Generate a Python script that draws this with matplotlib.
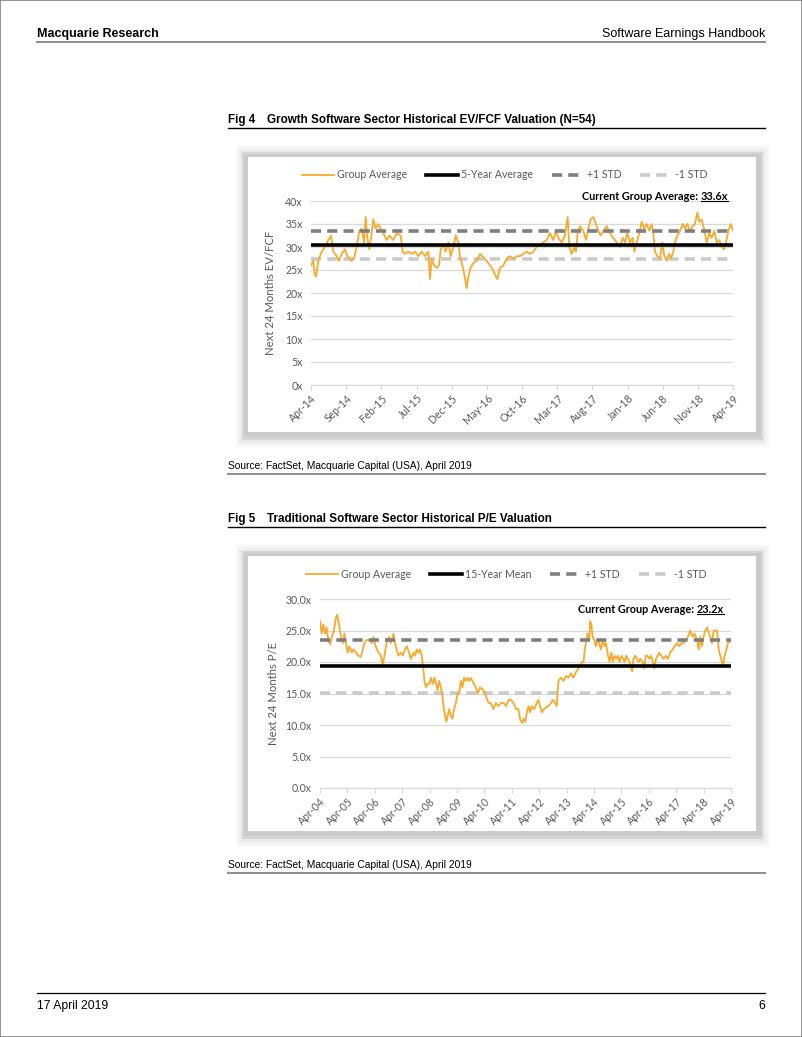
import matplotlib
matplotlib.use("Agg")
import matplotlib.pyplot as plt
from matplotlib.patches import Rectangle
from matplotlib.lines import Line2D

W, H = 802, 1037

# ---- data ----
ev_labels = ["Apr-14", "Sep-14", "Feb-15", "Jul-15", "Dec-15", "May-16", "Oct-16",
             "Mar-17", "Aug-17", "Jan-18", "Jun-18", "Nov-18", "Apr-19"]
# months since Apr-14
ev_month = [0, 0.33, 0.52, 0.71, 1.04, 1.52, 1.99, 2.46, 2.84, 3.18, 3.65, 3.98, 4.36,
            4.83, 5.17, 5.78, 6.11, 6.49, 6.87, 7.20, 7.54, 7.77, 8.01, 8.29, 8.63,
            8.86, 9.19, 9.57, 9.91, 10.28, 10.76, 11.14, 11.71, 12.18, 12.75, 13.03,
            13.36, 13.84, 14.31, 14.79, 15.26, 15.73, 16.21, 16.68, 16.92, 17.16,
            17.49, 17.87, 18.20, 18.44, 18.82, 19.15, 19.53, 19.86, 20.24, 20.57,
            20.95, 21.18, 21.52, 21.80, 22.13, 22.37, 22.70, 23.08, 23.55, 24.03,
            24.98, 25.69, 26.16, 26.49, 26.87, 27.35, 27.82, 28.29, 28.77, 29.24,
            29.72, 30.19, 30.66, 31.14, 31.61, 32.09, 32.56, 33.03, 33.51, 33.98,
            34.45, 34.83, 35.17, 35.64, 36.11, 36.49, 36.73, 37.06, 37.44, 37.68,
            37.91, 38.25, 38.72, 39.10, 39.43, 39.76, 40.14, 40.52, 40.85, 41.18,
            41.56, 42.04, 42.51, 42.98, 43.46, 43.93, 44.31, 44.64, 44.98, 45.36,
            45.73, 45.97, 46.30, 46.68, 47.01, 47.35, 47.73, 48.10, 48.44, 48.67,
            48.91, 49.24, 49.62, 49.95, 50.24, 50.57, 50.90, 51.18, 51.52, 51.75,
            52.09, 52.46, 52.84, 53.18, 53.51, 53.89, 54.27, 54.60, 54.93, 55.21,
            55.55, 55.88, 56.26, 56.64, 56.97, 57.35, 57.68, 58.06, 58.39, 58.72,
            59.00, 59.34, 59.67, 60.0]
ev_value = [26, 27, 24, 23.6, 27, 29, 30, 31.5, 32.5, 29, 28, 27, 28.5,
            29.5, 28, 27, 27.5, 30, 33.5, 34, 31, 36.5, 32, 29.5, 33,
            36, 34, 35, 34, 33, 31.5, 32.5, 31.5, 33, 32.5, 29,
            28.5, 29, 28.5, 29, 28, 29, 28, 29, 23, 27.5,
            26, 25.5, 26, 29.5, 30.5, 29, 31, 28, 30, 32.5,
            31, 28, 26, 24, 21, 23.5, 25.5, 26.5, 27, 28.5,
            27, 25.5, 24, 23, 25.5, 26, 27.5, 28, 27.5, 28,
            28, 28.5, 29, 28.5, 29, 30, 30.5, 31, 31.5, 33,
            31.5, 33.5, 32, 31, 32.5, 36.5, 30, 28.5, 30, 29,
            33, 34.5, 33.5, 31.5, 34, 36, 36.5, 35, 33.5, 32.5,
            33.5, 34.5, 33, 32, 31, 30, 32, 31, 33, 31,
            32, 29, 31, 33, 35.5, 34, 35, 33.5, 35, 33,
            29, 28, 27.5, 31, 28, 27, 28.5, 27.5, 29, 31,
            32.5, 33.5, 35, 34, 35, 33.5, 34.5, 35, 37.5, 35.5,
            36, 34, 31, 33, 32, 33.5, 31, 31.5, 30, 29.5,
            31, 33.5, 35, 33.6]
ev_mean, ev_plus, ev_minus = 30.5, 33.5, 27.5

pe_labels = ["Apr-%02d" % y for y in range(4, 20)]
# years since Apr-04
pe_year = [0.00, 0.06, 0.12, 0.18, 0.24, 0.30, 0.37, 0.43, 0.51, 0.58, 0.63, 0.69,
           0.77, 0.83, 0.89, 0.95, 1.01, 1.07, 1.16, 1.22, 1.31, 1.40, 1.49, 1.56,
           1.62, 1.70, 1.80, 1.89, 1.95, 2.03, 2.13, 2.22, 2.29, 2.35, 2.43, 2.52,
           2.59, 2.68, 2.74, 2.80, 2.86, 2.95, 3.02, 3.10, 3.17, 3.25, 3.32, 3.41,
           3.47, 3.53, 3.59, 3.65, 3.71, 3.77, 3.81, 3.86, 3.92, 3.99, 4.05, 4.11,
           4.18, 4.24, 4.29, 4.35, 4.41, 4.47, 4.52, 4.57, 4.61, 4.66, 4.71, 4.77,
           4.83, 4.89, 4.96, 5.02, 5.08, 5.14, 5.20, 5.26, 5.32, 5.38, 5.44, 5.50,
           5.56, 5.62, 5.69, 5.75, 5.81, 5.84, 5.97, 6.06, 6.15, 6.23, 6.33, 6.42,
           6.51, 6.60, 6.70, 6.79, 6.88, 6.96, 7.06, 7.16, 7.24, 7.30, 7.37, 7.43,
           7.49, 7.55, 7.61, 7.67, 7.73, 7.82, 7.91, 7.97, 8.03, 8.10, 8.16, 8.25,
           8.34, 8.43, 8.50, 8.58, 8.64, 8.70, 8.79, 8.89, 8.98, 9.07, 9.16, 9.25,
           9.35, 9.44, 9.50, 9.56, 9.62, 9.65, 9.72, 9.76, 9.83, 9.86, 9.90, 9.95,
           10.01, 10.07, 10.13, 10.19, 10.25, 10.32, 10.38, 10.44, 10.51, 10.57,
           10.63, 10.69, 10.75, 10.81, 10.87, 10.93, 11.00, 11.06, 11.12, 11.18,
           11.24, 11.30, 11.39, 11.44, 11.50, 11.57, 11.63, 11.69, 11.77, 11.83,
           11.89, 11.95, 12.02, 12.08, 12.15, 12.20, 12.26, 12.32, 12.38, 12.45,
           12.54, 12.62, 12.70, 12.78, 12.87, 12.94, 13.03, 13.11, 13.19, 13.27,
           13.36, 13.43, 13.51, 13.60, 13.67, 13.76, 13.82, 13.88, 13.94, 14.00,
           14.06, 14.13, 14.19, 14.25, 14.31, 14.37, 14.43, 14.49, 14.55, 14.61,
           14.67, 14.71, 14.77, 14.83, 14.89, 14.95, 15.00]
pe_value = [26.5, 24.5, 26, 24.5, 25.5, 23.5, 22.8, 24, 25, 27, 27.5, 26,
            24, 23, 24.5, 23, 21.5, 22.5, 21.5, 22, 21.5, 21, 20.8, 22,
            23, 23.5, 23.5, 23, 24, 22.5, 21.5, 21, 19.5, 21, 23, 24,
            23, 24.5, 23, 22, 21, 21.5, 21, 22, 22.5, 21.5, 20.5, 21.5,
            21, 22, 21.5, 22, 21, 19, 17, 16, 16.5, 16.5, 17.5, 16.5,
            17.5, 16.5, 15.5, 17, 16, 14.5, 12.5, 11.5, 10.5, 11.5, 12.5, 11.5,
            11, 12.5, 13.5, 15, 15, 17, 16, 17.5, 17, 17.5, 17, 17.5,
            17, 16.5, 16, 15, 15.5, 16, 15.5, 14.5, 13.5, 13.5, 12.5, 13.5,
            13, 13.5, 13.5, 13, 14, 14, 13.5, 12.5, 12.5, 11, 10.3, 11,
            10.5, 12, 13, 12, 13, 12.5, 13.5, 14, 13, 12, 12.5, 12.8,
            13, 13.5, 14, 13.5, 13, 17, 17.5, 17, 17.8, 17.5, 18.2, 17.5,
            18.5, 19, 19.5, 20, 20, 21.5, 23.5, 24.5, 23.5, 26.5, 26, 24,
            23.5, 22.5, 23.5, 23, 22, 23.5, 22.5, 23, 21, 20,
            21.5, 20, 21, 20.5, 21, 20, 21, 20.5, 20, 21,
            20.5, 20, 18.5, 20.5, 21, 20.5, 20, 20.5, 20, 19,
            21, 21, 20.5, 21, 20, 19, 20.5, 21, 21.5, 21,
            20.5, 21, 20.5, 21.5, 22, 22.5, 23, 22.5, 23, 23,
            23.5, 24, 25, 24, 24.5, 23.5, 22, 24, 22.5, 24,
            25, 25.5, 24.5, 24, 23, 25, 25, 25, 22, 21,
            20, 19.5, 21, 22, 23, 23.5, 23.2]
pe_mean, pe_plus, pe_minus = 19.3, 23.5, 15.1

ORANGE = "#F9AA2C"
DARK = "#7f7f7f"
LIGHT = "#cacaca"
GRID = "#d9d9d9"
TXT = "#595959"
CHART_FONT = "Lato"
PAGE_FONT = "Liberation Sans"

fig = plt.figure(figsize=(W / 100, H / 100), dpi=100)


def fx(x):
    return x / W


def fy(y):
    return 1 - y / H


def hline(x0, x1, y, color, lw):
    fig.add_artist(Line2D([fx(x0), fx(x1)], [fy(y), fy(y)], color=color, lw=lw,
                          transform=fig.transFigure))


def rect(x0, y0, x1, y1, **kw):
    fig.add_artist(Rectangle((fx(x0), fy(y1)), fx(x1) - fx(x0), fy(y0) - fy(y1),
                             transform=fig.transFigure, zorder=-5, **kw))


def frame(y0, y1):
    x0, x1 = 242, 763
    for d in range(1, 8):
        rect(x0 - d, y0 - d, x1 + d, y1 + d + 1, color="black", alpha=0.01, lw=0)
    rect(x0, y0, x1, y1, color="#d6d6d6", lw=0)
    rect(x0 + 2, y0 + 2, x1 - 2, y1 - 3, color="#cbcbcb", lw=0)
    rect(x0 + 6, y0 + 5, x1 - 7, y1 - 8, color="white", lw=0)


# page furniture
fig.add_artist(Rectangle((0, 0), 1, 1, transform=fig.transFigure, fill=False,
                         edgecolor="#808080", lw=1.2))
fig.text(fx(37), fy(37), "Macquarie Research", fontsize=9, fontweight="bold",
         family=PAGE_FONT, va="baseline")
fig.text(fx(765), fy(37), "Software Earnings Handbook", fontsize=9,
         family=PAGE_FONT, va="baseline", ha="right")
hline(37, 765, 41.5, "#8c8c8c", 1.4)
hline(37, 765, 993, "black", 0.9)
fig.text(fx(37), fy(1009), "17 April 2019", fontsize=8.7, family=PAGE_FONT, va="baseline")
fig.text(fx(765), fy(1009), "6", fontsize=8.7, family=PAGE_FONT, va="baseline", ha="right")


def figure_block(top, num, title, source_y):
    fig.text(fx(228), fy(top), "Fig %d" % num, fontsize=8.4, fontweight="bold",
             family=PAGE_FONT, va="baseline")
    fig.text(fx(267), fy(top), title, fontsize=8.4, fontweight="bold",
             family=PAGE_FONT, va="baseline")
    hline(228, 765, top + 5, "black", 1.0)
    fig.text(fx(228), fy(source_y), "Source: FactSet, Macquarie Capital (USA), April 2019",
             fontsize=7.4, family=PAGE_FONT, va="baseline")
    hline(228, 765, source_y + 5, "#8c8c8c", 1.4)


def chart(box, x, y, xmax, labels, mean, plus, minus, ymax, fmt, ylabel, ylab_x,
          mean_name, legend_x, legend_y, cur_xy, cur_text):
    ax = fig.add_axes([fx(box[0]), fy(box[3]), fx(box[2]) - fx(box[0]),
                       fy(box[1]) - fy(box[3])])
    ax.set_facecolor("none")
    l1, = ax.plot(x, y, color=ORANGE, lw=1.3, zorder=3)
    l2, = ax.plot([0, xmax], [mean, mean], color="black", lw=2.6, zorder=4)
    l3, = ax.plot([0, xmax], [plus, plus], color=DARK, lw=2.6, dashes=(2.8, 1.7), zorder=4)
    l4, = ax.plot([0, xmax], [minus, minus], color=LIGHT, lw=2.6, dashes=(2.8, 1.7), zorder=2)
    ax.set_xlim(0, xmax)
    ax.set_ylim(0, ymax)
    ax.set_yticks(range(0, ymax + 1, 5))
    ax.set_yticklabels([fmt % v for v in range(0, ymax + 1, 5)])
    step = xmax / (len(labels) - 1)
    ax.set_xticks([i * step for i in range(len(labels))])
    ax.set_xticklabels(labels, rotation=45, ha="right", rotation_mode="anchor")
    ax.grid(axis="y", color=GRID, lw=0.9)
    ax.set_axisbelow(True)
    for s in ["top", "right", "left"]:
        ax.spines[s].set_visible(False)
    ax.spines["bottom"].set_color(GRID)
    ax.spines["bottom"].set_linewidth(0.9)
    ax.tick_params(axis="y", length=0, pad=6, labelsize=7.6, labelcolor=TXT)
    ax.tick_params(axis="x", length=3.5, color=GRID, pad=2, labelsize=7.6, labelcolor=TXT)
    for t in ax.get_xticklabels() + ax.get_yticklabels():
        t.set_family(CHART_FONT)
    ax.set_ylabel(ylabel, family=CHART_FONT, fontsize=8.2, color=TXT)
    ax.yaxis.set_label_coords(ylab_x, 0.5)
    leg = fig.legend([l1, l2, l3, l4], ["Group Average", mean_name, "+1 STD", "-1 STD"],
                     loc="center", bbox_to_anchor=(fx(legend_x), fy(legend_y)), ncol=4,
                     frameon=False, handlelength=3.0, handletextpad=0.3,
                     columnspacing=1.8, prop={"family": CHART_FONT, "size": 7.6})
    for t in leg.get_texts():
        t.set_color(TXT)

    # "Current Group Average: xx.x" with the value underlined
    r = fig.canvas.get_renderer()
    cx, cy = cur_xy
    val = ax.text(cx, cy, cur_text, transform=ax.transAxes, ha="right", va="center",
                  fontweight="bold", family=CHART_FONT, fontsize=7.8)
    bb = val.get_window_extent(r)
    inv = ax.transAxes.inverted()
    (vx0, vy0), (vx1, _) = inv.transform([[bb.x0, bb.y0 + 0.5], [bb.x1, bb.y1]])
    ax.text(vx0 - 0.006, cy, "Current Group Average:", transform=ax.transAxes,
            ha="right", va="center", fontweight="bold", family=CHART_FONT, fontsize=7.8)
    ax.plot([vx0, vx1], [vy0, vy0], transform=ax.transAxes,
            color="black", lw=0.8, clip_on=False)
    return ax


# Fig 4
figure_block(123, 4, "Growth Software Sector Historical EV/FCF Valuation (N=54)", 469)
frame(152, 440)
chart((311, 201, 733, 385), ev_month, ev_value, 60, ev_labels, ev_mean, ev_plus,
      ev_minus, 40, "%dx", "Next 24 Months EV/FCF", -0.083, "5-Year Average", 505, 175,
      (0.988, 1.027), "33.6x")

# Fig 5
figure_block(522, 5, "Traditional Software Sector Historical P/E Valuation", 868)
frame(551, 839)
chart((320, 599, 731, 788), pe_year, pe_value, 15, pe_labels, pe_mean, pe_plus,
      pe_minus, 30, "%.1fx", "Next 24 Months P/E", -0.10, "15-Year Mean", 506, 574,
      (0.983, 0.947), "23.2x")

fig.savefig("out.png", dpi=100)
